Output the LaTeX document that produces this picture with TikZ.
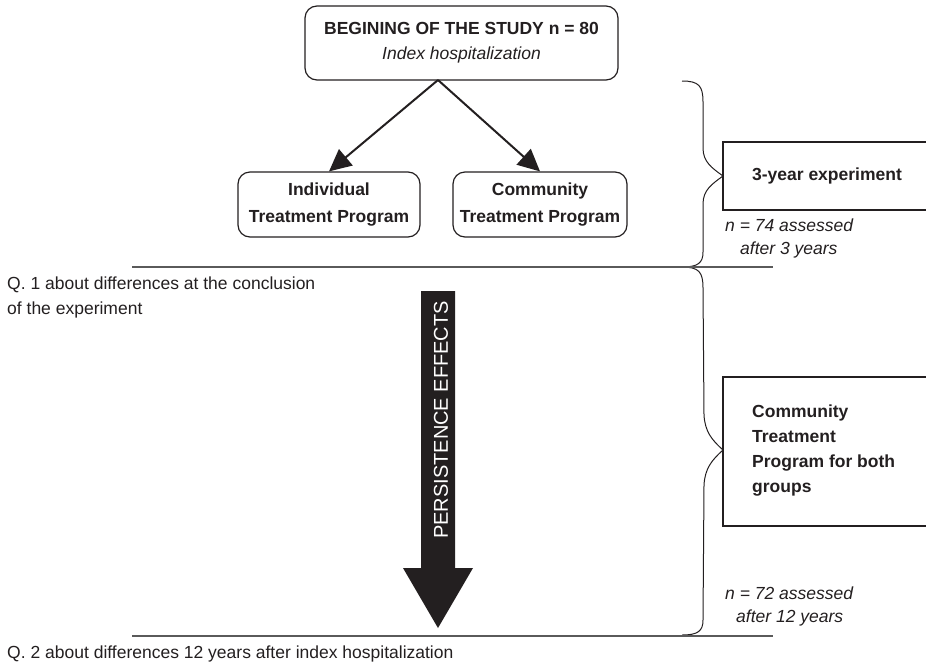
\documentclass[tikz,border=0pt]{standalone}
\usepackage{fontspec}
\setmainfont{Liberation Sans}
\usetikzlibrary{arrows.meta}
\definecolor{ink}{HTML}{231F20}
\definecolor{rulegray}{HTML}{5A5A5A}
\begin{document}
\begin{tikzpicture}[x=1pt,y=-1pt,
  font=\fontsize{17.5}{25}\selectfont, text=ink,
  rbox/.style={draw=ink, line width=1.2pt, rounded corners=12pt, align=center, inner sep=0pt},
  sqbox/.style={draw=ink, line width=1.2pt, inner sep=0pt},
  conn/.style={draw=ink, line width=2pt, -{Triangle[length=22pt,width=21pt]}},
  brace/.style={draw=ink, line width=1pt},
  hrule/.style={draw=rulegray, line width=1.8pt},
  txt/.style={inner sep=0pt, anchor=west, align=left}]
\useasboundingbox (0,0) rectangle (926,667);

% top box and two programme boxes
\node[rbox, minimum width=313pt, minimum height=74pt] (start) at (461.5,43)
  {\textbf{BEGINING OF THE STUDY n = 80}\\\textit{Index hospitalization}};
\node[rbox, minimum width=182pt, minimum height=65pt,
  font=\bfseries\fontsize{17.5}{27}\selectfont] (indiv) at (329,204.5)
  {Individual\\Treatment Program};
\node[rbox, minimum width=174pt, minimum height=65pt,
  font=\bfseries\fontsize{17.5}{27}\selectfont] (comm) at (540,204.5)
  {Community\\Treatment Program};
\coordinate (apex) at (438,80);
\draw[conn] (apex) -- (indiv.north);
\draw[conn] (apex) -- (comm.north);

% right-hand boxes (run off the right edge)
\node[sqbox, minimum width=222pt, minimum height=68pt] (expbox) at (834,176) {};
\node[inner sep=0pt, font=\bfseries\fontsize{17.5}{25}\selectfont] (exp) at (827,176) {3-year experiment};
\node[sqbox, minimum width=222pt, minimum height=149pt] (bothbox) at (834,451.5) {};
\node[txt, font=\bfseries\fontsize{17.5}{25}\selectfont] (both) at (752,451)
  {Community\\Treatment\\Program for both\\groups};

% assessment notes
\node[txt, font=\itshape\fontsize{17.5}{25}\selectfont] (n74a) at (725,225) {n = 74 assessed};
\node[txt, font=\itshape\fontsize{17.5}{25}\selectfont] (n74b) at (740,250) {after 3 years};
\node[txt, font=\itshape\fontsize{17.5}{25}\selectfont] (n72a) at (725,593) {n = 72 assessed};
\node[txt, font=\itshape\fontsize{17.5}{25}\selectfont] (n72b) at (736,618) {after 12 years};

% braces
\draw[brace] (682,81) .. controls (699,81) and (703,86) .. (703,102)
  -- (703,148) .. controls (703,162) and (712,168) .. (723,176)
  .. controls (712,184) and (703,190) .. (703,204)
  -- (703,252) .. controls (703,263) and (698,267) .. (682,267);
\draw[brace] (682,267) .. controls (699,267) and (703,272) .. (703,288)
  -- (704,415) .. controls (705,432) and (712,440) .. (723,450)
  .. controls (712,460) and (705,468) .. (704,485)
  -- (703,620) .. controls (703,631) and (698,635) .. (682,635);

% horizontal rules
\draw[hrule] (132,267) -- (773,267);
\draw[hrule] (132,636) -- (773,636);

% questions
\node[txt, font=\fontsize{17.5}{25}\selectfont] (q1) at (7,297.5)
  {Q. 1 about differences at the conclusion\\of the experiment};
\node[txt, font=\fontsize{17.5}{25}\selectfont] (q2) at (7,654)
  {Q. 2 about differences 12 years after index hospitalization};

% big arrow
\fill[ink] (421,291) -- (455,291) -- (455,568) -- (473,568) -- (438,628)
  -- (403,568) -- (421,568) -- cycle;
\node[rotate=90, text=white, inner sep=0pt, font=\fontsize{20}{24}\selectfont] (pe) at (441,420)
  {PERSISTENCE EFFECTS};
\end{tikzpicture}
\end{document}
